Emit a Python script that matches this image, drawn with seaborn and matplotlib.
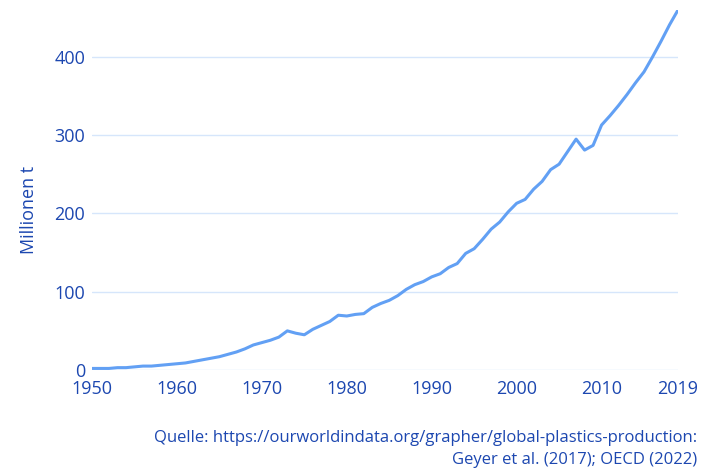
import pandas as pd
import matplotlib.pyplot as plt
import seaborn as sns

YEARS = list(range(1950, 2020))
PRODUCTION = [
    2, 2, 2, 3, 3, 4, 5, 5, 6, 7,
    8, 9, 11, 13, 15, 17, 20, 23, 27, 32,
    35, 38, 42, 50, 47, 45, 52, 57, 62, 70,
    69, 71, 72, 80, 85, 89, 95, 103, 109, 113,
    119, 123, 131, 136, 149, 155, 167, 180, 189, 202,
    213, 218, 231, 241, 256, 263, 279, 295, 281, 287,
    313, 325, 338, 352, 367, 381, 400, 420, 441, 460,
]
Y_TICKS = [0, 100, 200, 300, 400]
X_TICKS = [1950, 1960, 1970, 1980, 1990, 2000, 2010, 2019]

TEXT_COLOR = "#1c47b0"
LINE_COLOR = "#62a0f4"
GRID_COLOR = "#d6e6fb"

sns.set_theme(style="white")
plt.rcParams["font.family"] = ["Open Sans", "DejaVu Sans"]

df = pd.DataFrame({"year": YEARS, "value": PRODUCTION})

fig = plt.figure(figsize=(7.28, 4.70), dpi=100)
ax = fig.add_axes([92 / 728, 100 / 470, (678 - 92) / 728, 360 / 470])

sns.lineplot(data=df, x="year", y="value", color=LINE_COLOR, linewidth=2.2, ax=ax)

ax.set_xlim(1950, 2019)
ax.set_ylim(0, 460)
ax.set_xticks(X_TICKS)
ax.set_yticks(Y_TICKS)
ax.tick_params(axis="both", length=0, labelsize=13, labelcolor=TEXT_COLOR)
ax.tick_params(axis="x", pad=7)
ax.tick_params(axis="y", pad=5)
ax.yaxis.grid(True, color=GRID_COLOR, linewidth=1)
ax.xaxis.grid(False)
for s in ax.spines.values():
    s.set_visible(False)
ax.set_xlabel("")
ax.set_ylabel("Millionen t", fontsize=13, color=TEXT_COLOR)
ax.yaxis.set_label_coords(-54 / 586, 160 / 360)

fig.text(697 / 728, 1 - 438 / 470, "Quelle: https://ourworldindata.org/grapher/global-plastics-production:",
         ha="right", va="center", fontsize=12, color=TEXT_COLOR)
fig.text(697 / 728, 1 - 460 / 470, "Geyer et al. (2017); OECD (2022)",
         ha="right", va="center", fontsize=12, color=TEXT_COLOR)

fig.savefig("out.png", dpi=100)
